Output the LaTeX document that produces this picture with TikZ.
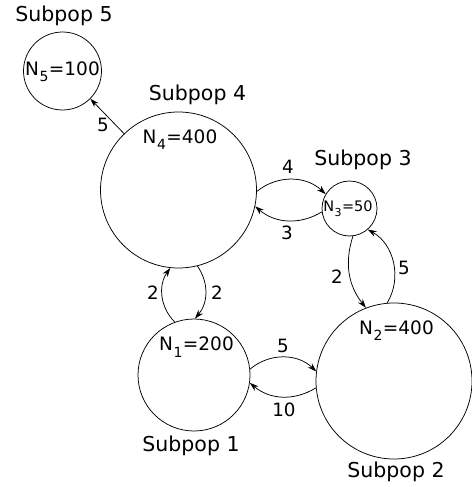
\documentclass[tikz,border=0pt]{standalone}
\usepackage{fontspec}
\setmainfont{DejaVu Sans}
\usetikzlibrary{arrows.meta}
\newcommand{\popsub}[1]{\kern0.5pt\raisebox{-0.36em}{\fontsize{14}{15}\selectfont #1}\kern0.5pt}
\tikzset{
  pop/.style={circle, draw, line width=0.75pt, inner sep=0pt, minimum size=#1},
  title/.style={font=\fontsize{20.5}{22}\selectfont, anchor=base, inner sep=0pt},
  size/.style={font=\fontsize{18.5}{20}\selectfont, anchor=base, inner sep=0pt},
  small/.style={font=\fontsize{14.5}{16}\selectfont, anchor=base, inner sep=0pt},
  rate/.style={font=\fontsize{18.3}{20}\selectfont, anchor=base, inner sep=0pt},
  flow/.style={line width=0.75pt, -{Stealth[length=9pt,width=6pt,inset=3pt]}},
}
\begin{document}
\begin{tikzpicture}[x=1pt,y=1pt]
\useasboundingbox (0,0) rectangle (471,-487);
% subpopulations
\node[pop=78pt]  (p5) at (62.5,-71)  {};
\node[pop=156pt] (p4) at (178.5,-190) {};
\node[pop=55pt]  (p3) at (349.5,-208.5) {};
\node[pop=156pt] (p2) at (394,-381) {};
\node[pop=112pt] (p1) at (194,-375) {};
% titles
\node[title] (t5) at (64,-22)    {Subpop 5};
\node[title] (t4) at (197.5,-100.7) {Subpop 4};
\node[title] (t3) at (363,-165)  {Subpop 3};
\node[title] (t2) at (396,-477)  {Subpop 2};
\node[title] (t1) at (191,-451.7) {Subpop 1};
% sizes
\node[size] (s5) at (62.5,-75)  {N\popsub{5}=100};
\node[size] (s4) at (180,-143.3) {N\popsub{4}=400};
\node[small] (s3) at (348,-211.7) {N\kern0.4pt\raisebox{-0.36em}{\fontsize{11}{12}\selectfont 3}\kern0.4pt=50};
\node[size] (s2) at (396.5,-334) {N\popsub{2}=400};
\node[size] (s1) at (196.5,-350.7) {N\popsub{1}=200};
% migration
\draw[flow] (p4.134) -- (p5.-45.5);
\draw[flow] (p4.-1.5) to[bend left=41] (p3.149);
\draw[flow] (p3.187) to[bend left=36] (p4.-12);
\draw[flow] (p3.-83) to[bend right=28] (p2.111);
\draw[flow] (p2.95) to[bend right=46] (p3.-49);
\draw[flow] (p1.110) to[bend left=40] (p4.-96);
\draw[flow] (p4.-76) to[bend left=37] (p1.89);
\draw[flow] (p1.6) to[bend left=42] (p2.173);
\draw[flow] (p2.185) to[bend left=36] (p1.-8);
% rates
\node[rate] (r45) at (103,-131.7) {5};
\node[rate] (r43) at (288,-173.3) {4};
\node[rate] (r34) at (287,-239)   {3};
\node[rate] (r32) at (337,-283.3) {2};
\node[rate] (r23) at (404,-274)   {5};
\node[rate] (r14) at (153,-299.3) {2};
\node[rate] (r41) at (217,-299.3) {2};
\node[rate] (r12) at (283,-352.3) {5};
\node[rate] (r21) at (284,-416)   {10};
\end{tikzpicture}
\end{document}
